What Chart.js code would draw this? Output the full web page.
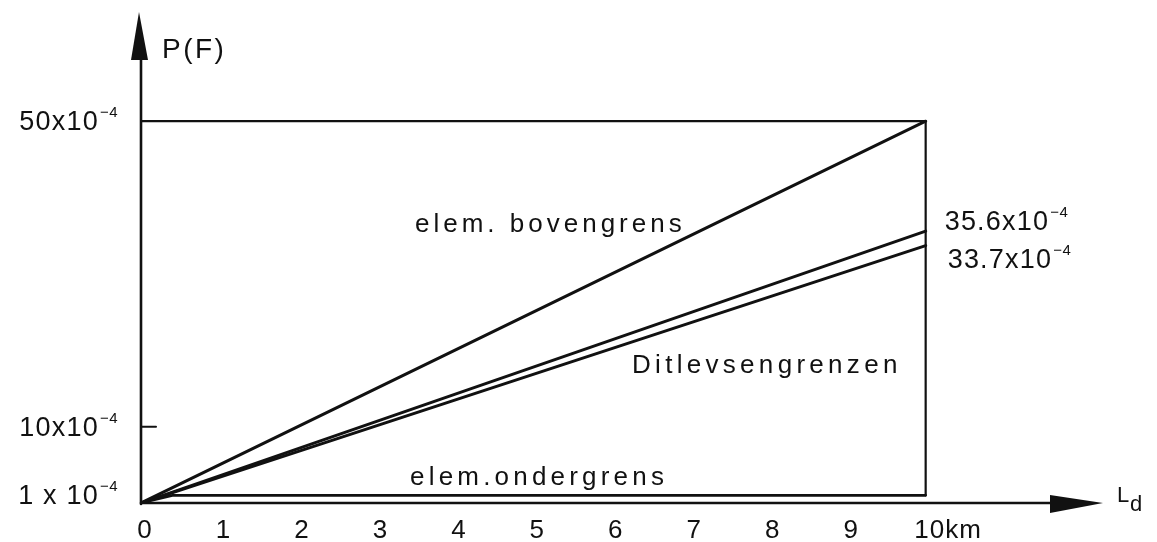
<!DOCTYPE html>
<html>
<head>
<meta charset="utf-8">
<script src="https://cdn.jsdelivr.net/npm/chart.js@4/dist/chart.umd.min.js"></script>
<style>
  html, body { margin: 0; padding: 0; background: #fff; }
  #wrap { width: 1157px; height: 542px; }
</style>
</head>
<body>
<div id="wrap"><canvas id="c" width="1157" height="542"></canvas></div>
<script>
// Failure probability P(F) (x 10^-4) against length L_d (km)
const lengthKm       = [0, 10];
const upperBound     = [0, 50];     // elem. bovengrens
const ditlevsenUpper = [0, 35.6];   // Ditlevsen upper bound
const ditlevsenLower = [0, 33.7];   // Ditlevsen lower bound
const lowerBoundKm   = [0, 0.4, 10];
const lowerBound     = [0, 1, 1];   // elem. ondergrens
const frameKm        = [0, 10, 10];
const frameP         = [50, 50, 1];

const xTicks      = [0, 1, 2, 3, 4, 5, 6, 7, 8, 9, 10];
const xTickLabels = ['0', '1', '2', '3', '4', '5', '6', '7', '8', '9', '10km'];
const yTicks      = [1, 10, 50];
const yTickLabels = ['1 x 10', '10x10', '50x10'];
const yTickExp    = '\u22124';
const yTickMarks  = [10];

const xAxisTitle = 'L';
const xAxisSub   = 'd';
const yAxisTitle = 'P(F)';
const curveNames = ['elem. bovengrens', 'Ditlevsengrenzen', 'elem.ondergrens'];

const INK = '#111';
const FAMILY = '"Liberation Sans", Arial, sans-serif';

function pts(xs, ys) { return xs.map((x, i) => ({ x: x, y: ys[i] })); }

function text(ctx, s, x, y, size, align, spacing) {
  ctx.save();
  ctx.font = size + 'px ' + FAMILY;
  ctx.letterSpacing = (spacing || 0) + 'px';
  ctx.fillStyle = INK;
  ctx.textAlign = align || 'left';
  ctx.textBaseline = 'alphabetic';
  ctx.fillText(s, x, y);
  ctx.restore();
}
function width(ctx, s, size, spacing) {
  ctx.save();
  ctx.font = size + 'px ' + FAMILY;
  ctx.letterSpacing = (spacing || 0) + 'px';
  const w = ctx.measureText(s).width;
  ctx.restore();
  return w;
}
// base text followed by a raised exponent, starting at x
function powText(ctx, base, exp, x, y) {
  text(ctx, base, x, y, 27, 'left', 1.2);
  const w = width(ctx, base, 27, 1.2);
  text(ctx, exp, x + w + 1, y - 13, 15, 'left', 0.5);
}
function powWidth(ctx, base, exp) {
  return width(ctx, base, 27, 1.2) + 1 + width(ctx, exp, 15, 0.5);
}

const axesPlugin = {
  id: 'axesAndLabels',
  beforeDatasetsDraw(chart) {
    const ctx = chart.ctx;
    const xs = chart.scales.x, ys = chart.scales.y;
    const x0 = xs.getPixelForValue(0), y0 = ys.getPixelForValue(0);
    const xEnd = xs.getPixelForValue(xs.max), yEnd = ys.getPixelForValue(ys.max);

    ctx.save();
    ctx.strokeStyle = INK;
    ctx.fillStyle = INK;
    ctx.lineWidth = 2.6;
    ctx.lineCap = 'round';
    // vertical axis with arrow
    ctx.beginPath();
    ctx.moveTo(x0, y0 + 1);
    ctx.lineTo(x0, yEnd + 30);
    ctx.stroke();
    ctx.beginPath();
    ctx.moveTo(x0 - 2, yEnd);
    ctx.lineTo(x0 + 7, yEnd + 48);
    ctx.lineTo(x0 - 10, yEnd + 48);
    ctx.closePath();
    ctx.fill();
    // horizontal axis with arrow
    ctx.beginPath();
    ctx.moveTo(x0, y0);
    ctx.lineTo(xEnd - 30, y0);
    ctx.stroke();
    ctx.beginPath();
    ctx.moveTo(xEnd, y0);
    ctx.lineTo(xEnd - 53, y0 - 8);
    ctx.lineTo(xEnd - 53, y0 + 10);
    ctx.closePath();
    ctx.fill();
    // small tick marks on the vertical axis
    ctx.lineWidth = 2;
    yTickMarks.forEach(v => {
      const py = ys.getPixelForValue(v);
      ctx.beginPath();
      ctx.moveTo(x0, py);
      ctx.lineTo(x0 + 15, py);
      ctx.stroke();
    });
    ctx.restore();

    // x tick labels
    xTicks.forEach((v, i) => {
      const lab = xTickLabels[i];
      const num = lab.match(/^\d+/)[0];
      const px = xs.getPixelForValue(v) + 4;
      const left = px - width(ctx, num, 26, 1) / 2;
      text(ctx, lab, left, 538, 26, 'left', 1);
    });
    // y tick labels, right aligned against the axis
    yTicks.forEach((v, i) => {
      const py = ys.getPixelForValue(v) + 9;
      const w = powWidth(ctx, yTickLabels[i], yTickExp);
      powText(ctx, yTickLabels[i], yTickExp, 118 - w, py);
    });
    // axis titles
    text(ctx, yAxisTitle, x0 + 21, 58, 28, 'left', 2.5);
    text(ctx, xAxisTitle, xEnd + 14, y0 - 1, 22, 'left', 0);
    text(ctx, xAxisSub, xEnd + 27, y0 + 8, 22, 'left', 0);
  },
  afterDatasetsDraw(chart) {
    const ctx = chart.ctx;
    const xs = chart.scales.x, ys = chart.scales.y;
    // curve names
    text(ctx, curveNames[0], 415, 232, 26, 'left', 4);
    text(ctx, curveNames[1], 632, 373, 26, 'left', 4.3);
    text(ctx, curveNames[2], 410, 485, 26, 'left', 4.2);
    // end values of the Ditlevsen bounds
    const xr = xs.getPixelForValue(lengthKm[1]) + 19;
    const vu = ditlevsenUpper[ditlevsenUpper.length - 1];
    const vl = ditlevsenLower[ditlevsenLower.length - 1];
    powText(ctx, vu.toFixed(1) + 'x10', yTickExp, xr, ys.getPixelForValue(vu) - 1);
    powText(ctx, vl.toFixed(1) + 'x10', yTickExp, xr + 3, ys.getPixelForValue(vl) + 22);
  }
};

const lineStyle = { borderColor: INK, pointRadius: 0, tension: 0, fill: false, borderCapStyle: 'round', borderJoinStyle: 'round' };

new Chart(document.getElementById('c'), {
  type: 'line',
  data: {
    datasets: [
      Object.assign({ label: 'frame', data: pts(frameKm, frameP), borderWidth: 2.2 }, lineStyle),
      Object.assign({ label: curveNames[0], data: pts(lengthKm, upperBound), borderWidth: 3 }, lineStyle),
      Object.assign({ label: 'Ditlevsen boven', data: pts(lengthKm, ditlevsenUpper), borderWidth: 3 }, lineStyle),
      Object.assign({ label: 'Ditlevsen onder', data: pts(lengthKm, ditlevsenLower), borderWidth: 3 }, lineStyle),
      Object.assign({ label: curveNames[2], data: pts(lowerBoundKm, lowerBound), borderWidth: 2.6 }, lineStyle)
    ]
  },
  options: {
    responsive: false,
    animation: false,
    layout: { padding: { left: 141, top: 12, right: 54, bottom: 39 } },
    scales: {
      x: { type: 'linear', min: 0, max: 12.26, display: false },
      y: { type: 'linear', min: 0, max: 64.3, display: false }
    },
    plugins: { legend: { display: false }, tooltip: { enabled: false } }
  },
  plugins: [axesPlugin]
});
</script>
</body>
</html>
